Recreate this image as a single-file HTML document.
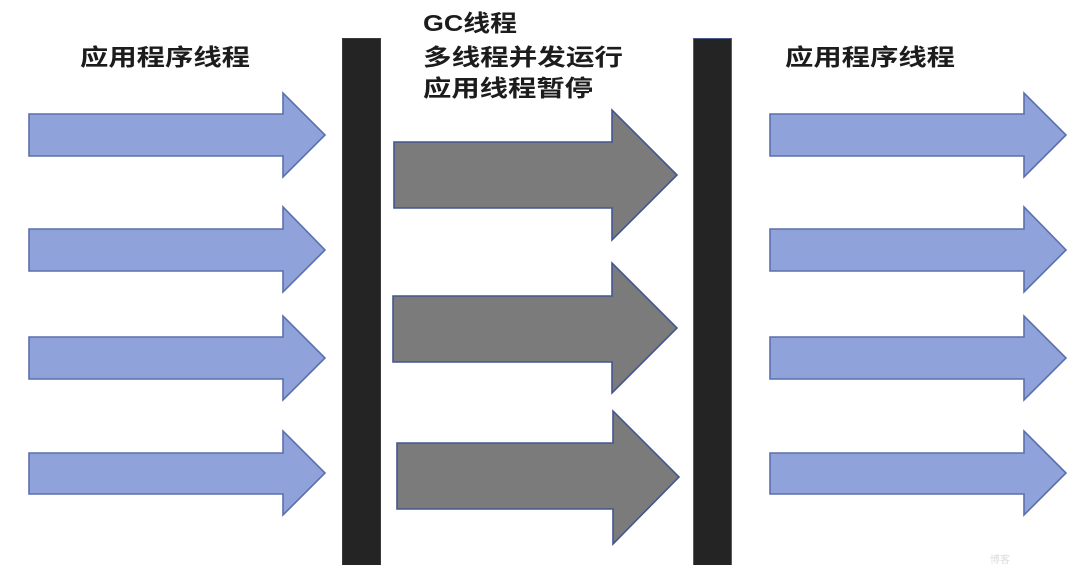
<!DOCTYPE html>
<html><head><meta charset="utf-8"><style>
html,body{margin:0;padding:0;background:#fff;}
svg{display:block;}
text{font-family:"Liberation Sans","Noto Sans CJK SC",sans-serif;font-weight:bold;fill:#1c1c1c;}
</style></head><body>
<svg width="1083" height="565" viewBox="0 0 1083 565" xmlns="http://www.w3.org/2000/svg">
<rect width="1083" height="565" fill="#fff"/>
<!-- left blue arrows -->
<g fill="#8fa2d9" stroke="#5b6fae" stroke-width="1.6" stroke-linejoin="miter">
<polygon points="29,114 283,114 283,93 325,135 283,177 283,156 29,156"/>
<polygon points="29,229 283,229 283,207 325,250 283,292 283,271 29,271"/>
<polygon points="29,337 283,337 283,316 325,358 283,400 283,379 29,379"/>
<polygon points="29,453 283,453 283,431 325,473 283,515 283,494 29,494"/>
<!-- right blue arrows -->
<polygon points="770,114 1024,114 1024,93 1066,135 1024,177 1024,156 770,156"/>
<polygon points="770,229 1024,229 1024,207 1066,250 1024,292 1024,271 770,271"/>
<polygon points="770,337 1024,337 1024,316 1066,358 1024,400 1024,379 770,379"/>
<polygon points="770,453 1024,453 1024,431 1066,473 1024,515 1024,494 770,494"/>
</g>
<!-- gray arrows -->
<g fill="#7b7b7b" stroke="#44568f" stroke-width="1.6">
<polygon points="394,142 612,142 612,110 677,175 612,240 612,208 394,208"/>
<polygon points="393,296 612,296 612,263 677,328 612,393 612,362 393,362"/>
<polygon points="397,443 613,443 613,411 679,477 613,544 613,509 397,509"/>
</g>
<!-- black bars -->
<rect x="342.5" y="38.5" width="38" height="530" fill="#242424" stroke="#3a3a3a" stroke-width="1"/>
<rect x="693.5" y="38.5" width="38" height="530" fill="#242424" stroke="#4a5a8a" stroke-width="1"/>
<!-- labels -->
<text x="80" y="65" font-size="23" textLength="170" lengthAdjust="spacingAndGlyphs">应用程序线程</text>
<text x="785" y="65" font-size="23" textLength="170" lengthAdjust="spacingAndGlyphs">应用程序线程</text>
<text x="423" y="31" font-size="23" textLength="94" lengthAdjust="spacingAndGlyphs">GC线程</text>
<text x="423" y="65" font-size="23" textLength="200" lengthAdjust="spacingAndGlyphs">多线程并发运行</text>
<text x="423" y="96" font-size="23" textLength="170" lengthAdjust="spacingAndGlyphs">应用线程暂停</text>
<text x="990" y="563" font-size="10" fill="#d8d8d8" style="fill:#dcdcdc;font-weight:normal">博客</text>
</svg>
</body></html>
